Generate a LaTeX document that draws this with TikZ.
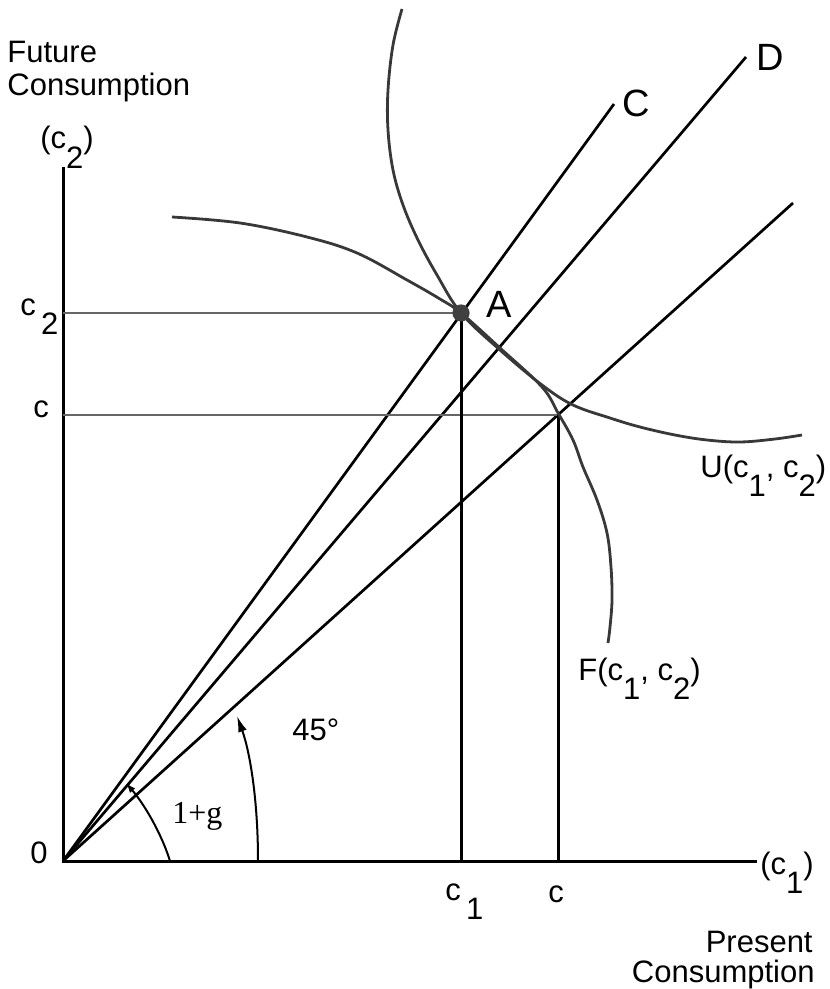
\documentclass[tikz,border=0pt]{standalone}
\usepackage{fontspec}
\usetikzlibrary{arrows.meta}
\setmainfont{Liberation Sans}
\newfontfamily\gfont{Liberation Serif}
\newcommand{\lowsub}[1]{\raisebox{-1.2ex}{#1}}

\begin{document}
\begin{tikzpicture}[x=0.5pt,y=-0.5pt,>={Latex[length=8pt,width=4.5pt]},
  every node/.style={font=\fontsize{15.5}{16.5}\selectfont,inner sep=0pt},
  big/.style={font=\fontsize{19}{21}\selectfont},
  axis/.style={line width=1.5pt},
  ray/.style={line width=1.35pt},
  guide/.style={line width=1.4pt,black!60},
  curve/.style={line width=1.4pt,black!78}]
  \useasboundingbox (0,0) rectangle (829,989);
  \coordinate (O) at (63,861);
  \coordinate (A) at (461,313);
  \coordinate (P) at (558,415);
  \coordinate (ytop) at (63,167);
  \coordinate (xend) at (757,861);
  \coordinate (Cend) at (614,104);
  \coordinate (Dend) at (746,57);
  \coordinate (Eend) at (793,203);
  \coordinate (g1) at (170,861);
  \coordinate (g2) at (126,783);
  \coordinate (h1) at (258,861);
  \coordinate (h2) at (237,716);
  \draw[axis] (ytop) -- (O) -- (xend);
  \draw[ray] (O) -- (Cend);
  \draw[ray] (O) -- (Dend);
  \draw[ray] (O) -- (Eend);
  \draw[guide] (O |- A) -- (A);
  \draw[guide] (O |- P) -- (P);
  \draw[axis] (A) -- (A |- O);
  \draw[axis] (P) -- (P |- O);
  \draw[curve] plot[smooth,tension=0.6] coordinates {(172,217) (240,223) (307,237) (357,253) (407,280) (440,299) (461,313) (500,348) (542,387) (558,413) (573,440) (583,467) (597,500) (607,533) (611,567) (612,600) (610,627) (608,643)};
  \draw[curve] plot[smooth,tension=0.6] coordinates {(402,9) (393,45) (388,90) (388,130) (393,170) (403,205) (418,240) (437,275) (461,313) (500,350) (542,385) (573,405) (610,418) (640,427) (675,435) (707,440) (740,442) (775,439) (802,435)};
  \fill[black!75] (A) circle (4.3pt);
  \draw[->,line width=1pt,>={Latex[length=5pt,width=3.5pt]}] (g1) .. controls (162,835) and (145,805) .. (g2);
  \draw[->,line width=1pt] (h1) .. controls (258,800) and (250,752) .. (h2);
  \node[anchor=north west,align=left] (futlbl) at (7,41) {Future\\Consumption};
  \node[anchor=base west] (ctwoaxis) at (40,149) {(c\lowsub{2})};
  \node[anchor=base west] (ctwo) at (20,315) {c\,\lowsub{2}};
  \node[anchor=base west] (cy) at (33,417) {c};
  \node[anchor=base west] (zero) at (30,863) {0};
  \node[anchor=base west] (conelbl) at (760,874) {(c\lowsub{1})};
  \node[anchor=base west] (cone) at (445,900) {c\,\lowsub{1}};
  \node[anchor=base west] (cx) at (548,902) {c};
  \node[anchor=base east] (prelbl) at (813,952) {Present};
  \node[anchor=base east] (conslbl) at (815,982) {Consumption};
  \node[anchor=base west] (ulbl) at (700,477) {U(c\lowsub{1}, c\lowsub{2})};
  \node[anchor=base west] (flbl) at (578,680) {F(c\lowsub{1}, c\lowsub{2})};
  \node[big,anchor=base west] (alabel) at (486,318) {A};
  \node[big,anchor=base west] (clabel) at (622,117) {C};
  \node[big,anchor=base west] (dlabel) at (756,71) {D};
  \node[anchor=base west] (deg) at (292,740) {45°};
  \node[anchor=base west,font=\gfont\fontsize{16}{18}\selectfont] (onepg) at (172,823) {1+g};
\end{tikzpicture}
\end{document}
